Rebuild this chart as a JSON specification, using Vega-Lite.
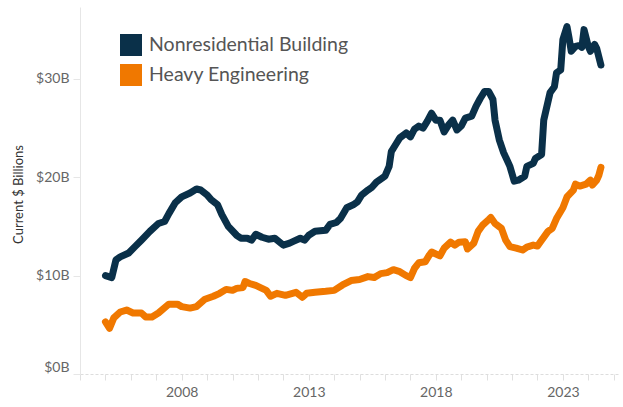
{
  "$schema": "https://vega.github.io/schema/vega-lite/v6.json",
  "width": 540,
  "height": 367,
  "autosize": "none",
  "padding": {"left": 80, "top": 7, "right": 3, "bottom": 33},
  "background": "white",
  "config": {"view": {"stroke": null}, "font": "Lato"},
  "datasets": {
    "nb": [
      {"d": "2005-01-01", "v": 10.0}, {"d": "2005-04-01", "v": 9.8}, {"d": "2005-06-01", "v": 11.6}, {"d": "2005-08-01", "v": 11.9},
      {"d": "2005-12-01", "v": 12.3}, {"d": "2006-03-01", "v": 12.95}, {"d": "2006-06-01", "v": 13.6}, {"d": "2006-10-01", "v": 14.5},
      {"d": "2007-02-01", "v": 15.3}, {"d": "2007-05-01", "v": 15.5}, {"d": "2007-07-01", "v": 16.3}, {"d": "2007-10-01", "v": 17.4},
      {"d": "2008-01-01", "v": 18.0}, {"d": "2008-05-01", "v": 18.4}, {"d": "2008-08-01", "v": 18.8}, {"d": "2008-10-01", "v": 18.7},
      {"d": "2009-01-01", "v": 18.2}, {"d": "2009-03-01", "v": 17.7}, {"d": "2009-06-01", "v": 17.2}, {"d": "2009-08-01", "v": 16.2},
      {"d": "2009-11-01", "v": 15.0}, {"d": "2010-03-01", "v": 14.1}, {"d": "2010-05-01", "v": 13.8}, {"d": "2010-08-01", "v": 13.8},
      {"d": "2010-10-01", "v": 13.6}, {"d": "2010-12-01", "v": 14.2}, {"d": "2011-03-01", "v": 13.9}, {"d": "2011-06-01", "v": 13.7},
      {"d": "2011-09-01", "v": 13.8}, {"d": "2012-01-01", "v": 13.1}, {"d": "2012-04-01", "v": 13.3}, {"d": "2012-06-01", "v": 13.5},
      {"d": "2012-09-01", "v": 13.8}, {"d": "2012-11-01", "v": 13.6}, {"d": "2013-01-01", "v": 14.1}, {"d": "2013-04-01", "v": 14.5},
      {"d": "2013-09-01", "v": 14.6}, {"d": "2013-11-01", "v": 15.2}, {"d": "2014-02-01", "v": 15.4}, {"d": "2014-04-01", "v": 15.8},
      {"d": "2014-07-01", "v": 16.9}, {"d": "2014-10-01", "v": 17.2}, {"d": "2014-12-01", "v": 17.5}, {"d": "2015-02-01", "v": 18.2},
      {"d": "2015-05-01", "v": 18.7}, {"d": "2015-07-01", "v": 19.0}, {"d": "2015-09-01", "v": 19.5}, {"d": "2016-01-01", "v": 20.1},
      {"d": "2016-03-01", "v": 21.1}, {"d": "2016-04-01", "v": 22.6}, {"d": "2016-06-01", "v": 23.3}, {"d": "2016-08-01", "v": 24.0},
      {"d": "2016-11-01", "v": 24.5}, {"d": "2017-01-01", "v": 24.1}, {"d": "2017-03-01", "v": 24.9}, {"d": "2017-05-01", "v": 25.2},
      {"d": "2017-07-01", "v": 25.0}, {"d": "2017-09-01", "v": 25.7}, {"d": "2017-11-01", "v": 26.5}, {"d": "2018-01-01", "v": 25.8},
      {"d": "2018-03-01", "v": 25.8}, {"d": "2018-05-01", "v": 24.6}, {"d": "2018-07-01", "v": 25.3}, {"d": "2018-09-01", "v": 25.8},
      {"d": "2018-11-01", "v": 24.8}, {"d": "2019-01-01", "v": 25.2}, {"d": "2019-03-01", "v": 26.0}, {"d": "2019-06-01", "v": 26.2},
      {"d": "2019-08-01", "v": 27.2}, {"d": "2019-10-01", "v": 28.0}, {"d": "2019-12-01", "v": 28.7}, {"d": "2020-02-01", "v": 28.7},
      {"d": "2020-04-01", "v": 27.9}, {"d": "2020-05-01", "v": 25.8}, {"d": "2020-07-01", "v": 23.8}, {"d": "2020-09-01", "v": 22.5},
      {"d": "2020-12-01", "v": 21.1}, {"d": "2021-02-01", "v": 19.6}, {"d": "2021-04-01", "v": 19.7}, {"d": "2021-07-01", "v": 20.1},
      {"d": "2021-08-01", "v": 21.1}, {"d": "2021-11-01", "v": 21.4}, {"d": "2021-12-01", "v": 21.9}, {"d": "2022-03-01", "v": 22.3},
      {"d": "2022-04-01", "v": 25.8}, {"d": "2022-07-01", "v": 28.6}, {"d": "2022-09-01", "v": 29.2}, {"d": "2022-10-01", "v": 30.6},
      {"d": "2022-12-01", "v": 30.9}, {"d": "2023-01-01", "v": 34.0}, {"d": "2023-03-01", "v": 35.3}, {"d": "2023-04-01", "v": 34.1},
      {"d": "2023-05-01", "v": 32.8}, {"d": "2023-07-01", "v": 33.3}, {"d": "2023-09-01", "v": 33.4}, {"d": "2023-10-01", "v": 33.2},
      {"d": "2023-11-01", "v": 35.0}, {"d": "2024-01-01", "v": 33.3}, {"d": "2024-02-01", "v": 32.8}, {"d": "2024-04-01", "v": 33.5},
      {"d": "2024-05-01", "v": 33.1}, {"d": "2024-07-01", "v": 31.4}
    ],
    "he": [
      {"d": "2005-01-01", "v": 5.3}, {"d": "2005-03-01", "v": 4.65}, {"d": "2005-05-01", "v": 5.7}, {"d": "2005-08-01", "v": 6.3},
      {"d": "2005-11-01", "v": 6.5}, {"d": "2006-02-01", "v": 6.2}, {"d": "2006-06-01", "v": 6.2}, {"d": "2006-08-01", "v": 5.8},
      {"d": "2006-11-01", "v": 5.8}, {"d": "2007-02-01", "v": 6.2}, {"d": "2007-07-01", "v": 7.1}, {"d": "2007-11-01", "v": 7.1},
      {"d": "2008-01-01", "v": 6.85}, {"d": "2008-05-01", "v": 6.7}, {"d": "2008-08-01", "v": 6.85}, {"d": "2008-12-01", "v": 7.6},
      {"d": "2009-04-01", "v": 7.9}, {"d": "2009-07-01", "v": 8.2}, {"d": "2009-10-01", "v": 8.6}, {"d": "2010-01-01", "v": 8.5},
      {"d": "2010-03-01", "v": 8.7}, {"d": "2010-06-01", "v": 8.8}, {"d": "2010-07-01", "v": 9.4}, {"d": "2010-09-01", "v": 9.2},
      {"d": "2010-12-01", "v": 9.0}, {"d": "2011-03-01", "v": 8.7}, {"d": "2011-05-01", "v": 8.5}, {"d": "2011-07-01", "v": 7.9},
      {"d": "2011-10-01", "v": 8.2}, {"d": "2012-02-01", "v": 8.0}, {"d": "2012-07-01", "v": 8.3}, {"d": "2012-10-01", "v": 7.8},
      {"d": "2012-12-01", "v": 8.2}, {"d": "2013-04-01", "v": 8.3}, {"d": "2013-09-01", "v": 8.4}, {"d": "2014-01-01", "v": 8.5},
      {"d": "2014-05-01", "v": 9.05}, {"d": "2014-09-01", "v": 9.5}, {"d": "2015-01-01", "v": 9.6}, {"d": "2015-05-01", "v": 9.9},
      {"d": "2015-08-01", "v": 9.8}, {"d": "2015-11-01", "v": 10.2}, {"d": "2016-02-01", "v": 10.3}, {"d": "2016-05-01", "v": 10.6},
      {"d": "2016-08-01", "v": 10.4}, {"d": "2016-11-01", "v": 10.0}, {"d": "2017-01-01", "v": 9.8}, {"d": "2017-03-01", "v": 10.75},
      {"d": "2017-05-01", "v": 11.3}, {"d": "2017-08-01", "v": 11.4}, {"d": "2017-10-01", "v": 12.1}, {"d": "2017-11-01", "v": 12.4},
      {"d": "2018-03-01", "v": 12.0}, {"d": "2018-05-01", "v": 12.8}, {"d": "2018-08-01", "v": 13.4}, {"d": "2018-10-01", "v": 13.1},
      {"d": "2018-12-01", "v": 13.4}, {"d": "2019-03-01", "v": 13.45}, {"d": "2019-04-01", "v": 12.7}, {"d": "2019-07-01", "v": 13.3},
      {"d": "2019-09-01", "v": 14.5}, {"d": "2019-11-01", "v": 15.1}, {"d": "2020-02-01", "v": 15.7}, {"d": "2020-03-01", "v": 15.9},
      {"d": "2020-05-01", "v": 15.3}, {"d": "2020-08-01", "v": 14.8}, {"d": "2020-10-01", "v": 13.6}, {"d": "2020-12-01", "v": 12.95},
      {"d": "2021-03-01", "v": 12.8}, {"d": "2021-06-01", "v": 12.6}, {"d": "2021-08-01", "v": 12.9}, {"d": "2021-11-01", "v": 13.1},
      {"d": "2022-01-01", "v": 13.0}, {"d": "2022-03-01", "v": 13.6}, {"d": "2022-06-01", "v": 14.5}, {"d": "2022-08-01", "v": 14.8},
      {"d": "2022-10-01", "v": 15.8}, {"d": "2023-01-01", "v": 16.9}, {"d": "2023-03-01", "v": 18.0}, {"d": "2023-06-01", "v": 18.7},
      {"d": "2023-07-01", "v": 19.3}, {"d": "2023-09-01", "v": 19.1}, {"d": "2023-12-01", "v": 19.3}, {"d": "2024-02-01", "v": 19.7},
      {"d": "2024-03-01", "v": 19.2}, {"d": "2024-05-01", "v": 19.7}, {"d": "2024-06-01", "v": 20.2}, {"d": "2024-07-01", "v": 21.0}
    ]
  },
  "layer": [
    {
      "data": {"name": "nb"},
      "transform": [{"calculate": "'Nonresidential Building'", "as": "series"}],
      "mark": {"type": "line", "strokeWidth": 7, "strokeCap": "round", "strokeJoin": "round"},
      "encoding": {
        "x": {"field": "d", "type": "temporal"},
        "y": {"field": "v", "type": "quantitative"},
        "color": {"field": "series", "type": "nominal"}
      }
    },
    {
      "data": {"name": "he"},
      "transform": [{"calculate": "'Heavy Engineering'", "as": "series"}],
      "mark": {"type": "line", "strokeWidth": 7, "strokeCap": "round", "strokeJoin": "round"},
      "encoding": {
        "x": {"field": "d", "type": "temporal"},
        "y": {"field": "v", "type": "quantitative"},
        "color": {"field": "series", "type": "nominal"}
      }
    }
  ],
  "encoding": {
    "x": {
      "field": "d", "type": "temporal",
      "scale": {"domain": ["2004-01-01T00:00:00", "2025-04-01T00:00:00"]},
      "axis": {
        "title": null,
        "values": ["2004-01-01T00:00:00","2005-01-01T00:00:00","2006-01-01T00:00:00","2007-01-01T00:00:00","2008-01-01T00:00:00","2009-01-01T00:00:00","2010-01-01T00:00:00","2011-01-01T00:00:00","2012-01-01T00:00:00","2013-01-01T00:00:00","2014-01-01T00:00:00","2015-01-01T00:00:00","2016-01-01T00:00:00","2017-01-01T00:00:00","2018-01-01T00:00:00","2019-01-01T00:00:00","2020-01-01T00:00:00","2021-01-01T00:00:00","2022-01-01T00:00:00","2023-01-01T00:00:00","2024-01-01T00:00:00","2025-01-01T00:00:00"],
        "labelExpr": "year(datum.value) % 5 == 3 ? timeFormat(datum.value, '%Y') : ''",
        "grid": false,
        "domainColor": "#dddddd",
        "domainDash": [3, 2],
        "tickColor": "#e0e0e0",
        "tickSize": 6,
        "labelFont": "Lato",
        "labelFontSize": 14,
        "labelColor": "#666666",
        "labelPadding": 5
      }
    },
    "y": {
      "field": "v", "type": "quantitative",
      "scale": {"domain": [0, 37.3], "nice": false},
      "axis": {
        "title": "Current $ Billions",
        "values": [0, 10, 20, 30],
        "labelExpr": "'$' + datum.value + 'B'",
        "labelFlush": true,
        "grid": false,
        "domainColor": "#e6e6e6",
        "tickColor": "#e6e6e6",
        "tickSize": 7,
        "labelPadding": 4,
        "labelFont": "Lato",
        "labelFontSize": 14,
        "labelColor": "#666666",
        "titleFont": "Lato",
        "titleFontSize": 13,
        "titleFontWeight": "normal",
        "titleColor": "#333333",
        "titlePadding": 10,
        "titleY": 187
      }
    },
    "color": {
      "field": "series", "type": "nominal",
      "scale": {"domain": ["Nonresidential Building", "Heavy Engineering"], "range": ["#0a3049", "#f07800"]},
      "legend": {
        "title": null,
        "orient": "none",
        "legendX": 40,
        "legendY": 27,
        "symbolType": "square",
        "symbolSize": 484,
        "symbolStrokeWidth": 0,
        "symbolOpacity": 1,
        "labelFont": "Lato",
        "labelFontSize": 19.5,
        "labelColor": "#555555",
        "labelOffset": 7,
        "rowPadding": 8,
        "labelLimit": 400,
        "encode": {
          "symbols": {
            "update": {
              "fill": {"scale": "color", "field": "value"},
              "fillOpacity": {"value": 1},
              "strokeWidth": {"value": 0}
            }
          }
        }
      }
    }
  }
}
